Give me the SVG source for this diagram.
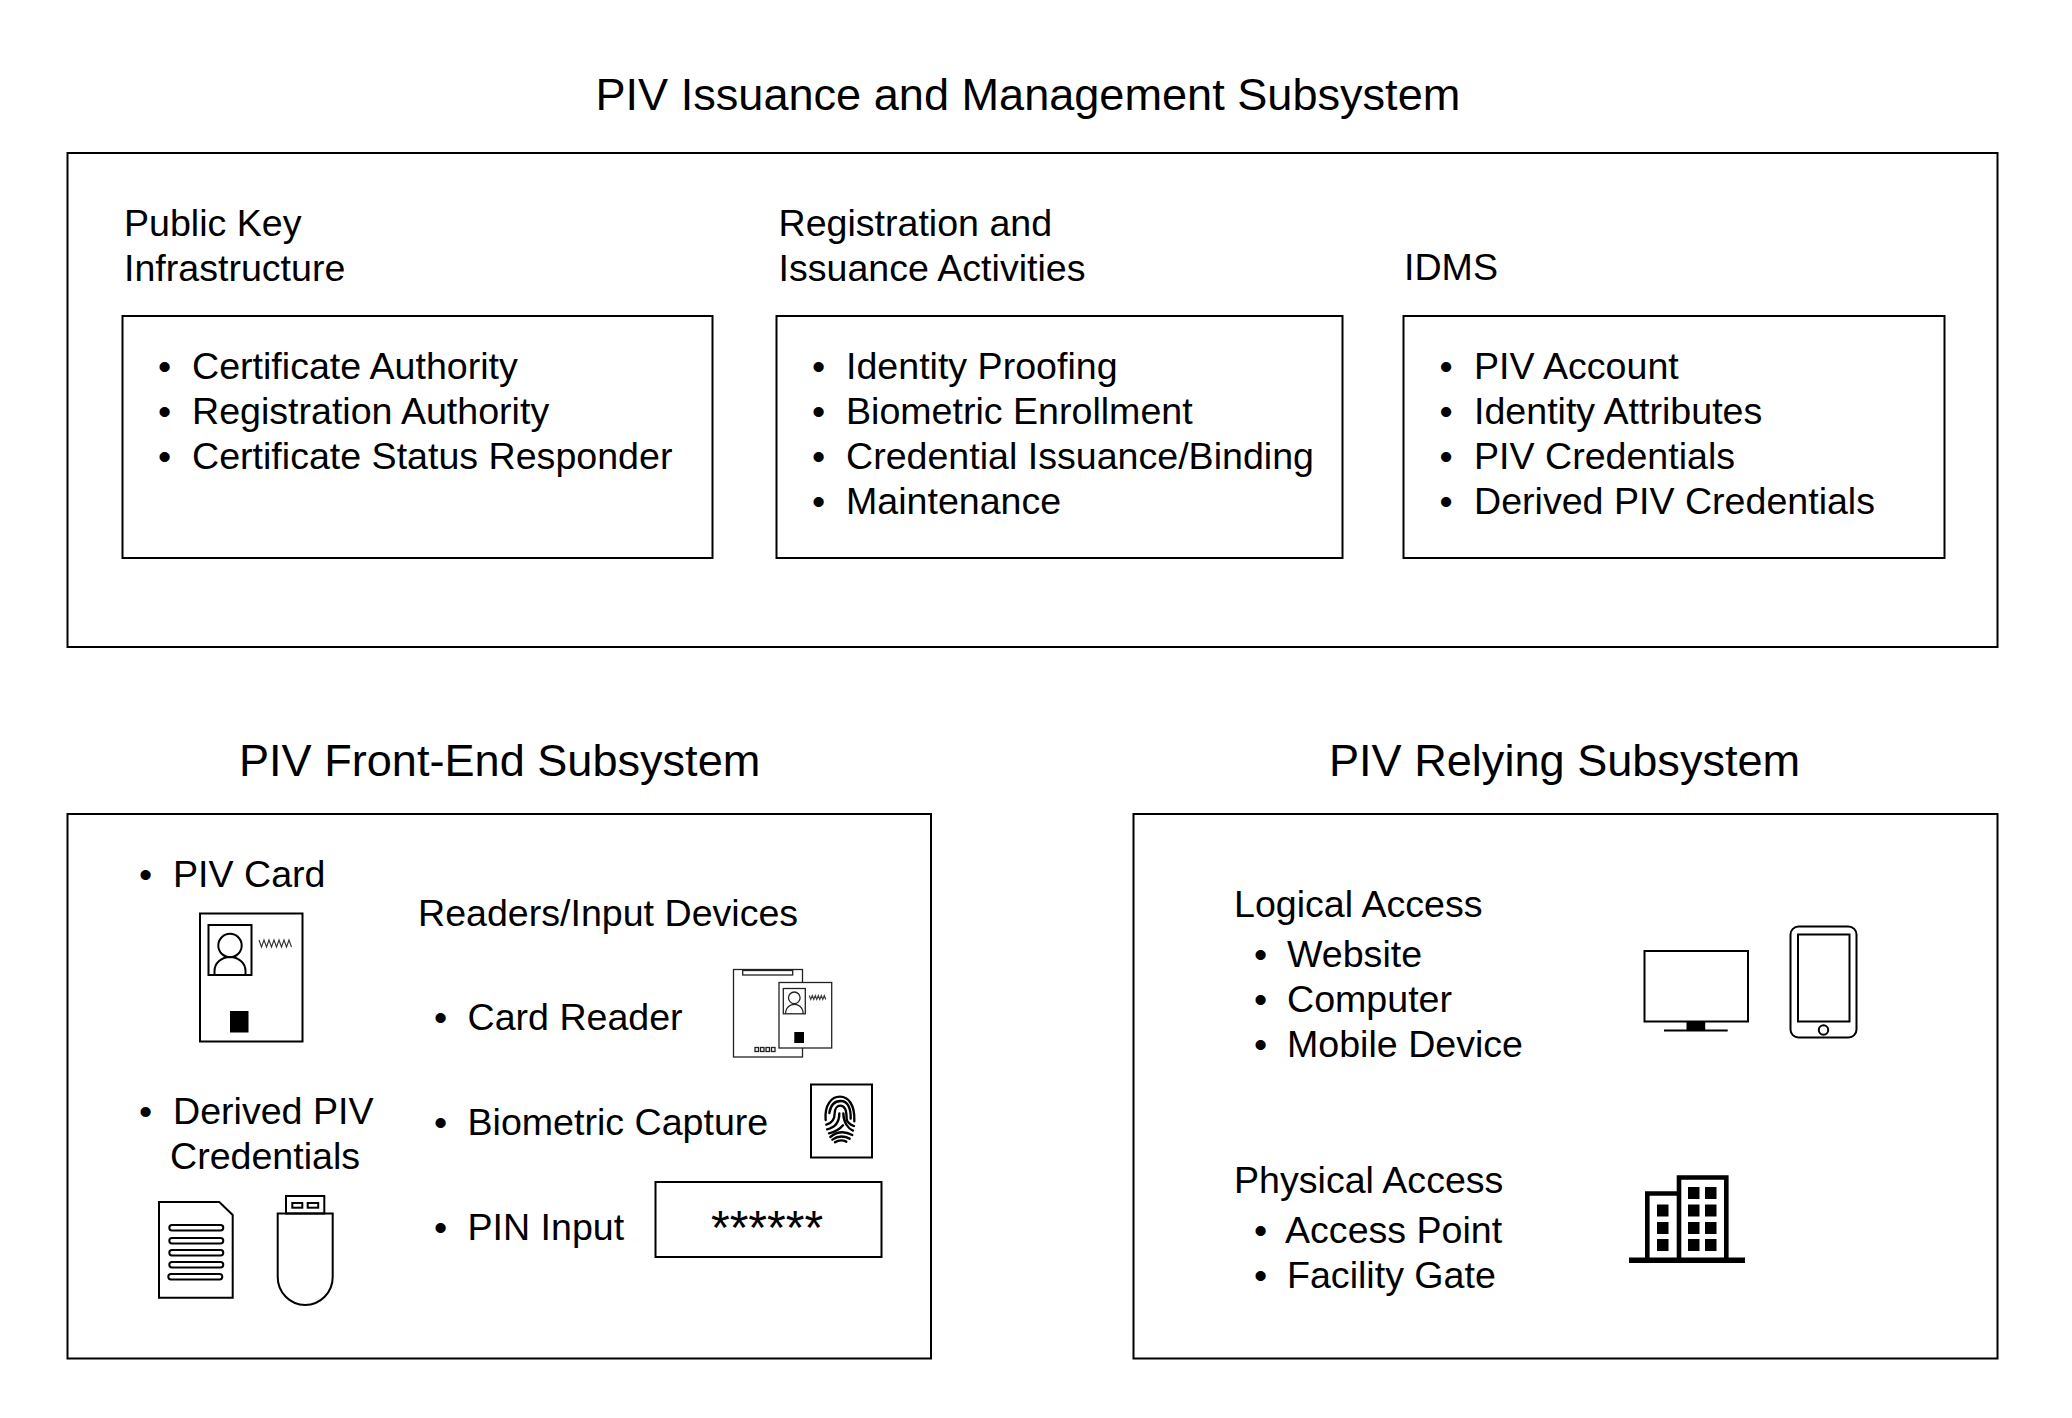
<svg xmlns="http://www.w3.org/2000/svg" width="2072" height="1418" viewBox="0 0 2072 1418">
<style>
text{font-family:"Liberation Sans",Arial,sans-serif;font-size:37.6px;fill:#000}
.t{font-size:45.1px}
.b{fill:#fff;stroke:#000;stroke-width:2}
.n{fill:none;stroke:#000;stroke-width:2}
.h{fill:none;stroke:#000;stroke-width:7;stroke-linecap:round}
.w{fill:none;stroke:#333;stroke-width:1.1}
.k{fill:#000}
.r{fill:none;stroke:#222;stroke-width:1.3}
.rf{fill:#fff;stroke:#222;stroke-width:1.3}
</style>
<rect width="2072" height="1418" fill="#fff"/>
<g id="issuance">
<text class="t" x="595.500" y="110">PIV Issuance and Management Subsystem</text>
<rect class="b" x="67.5" y="153" width="1930" height="494"/>
</g>
<g id="pki">
<text x="124" y="236">Public Key</text>
<text x="124" y="281">Infrastructure</text>
<rect class="b" x="122.5" y="316" width="590" height="242"/>
<text x="158" y="379">•</text><text x="192" y="379">Certificate Authority</text>
<text x="158" y="424">•</text><text x="192" y="424">Registration Authority</text>
<text x="158" y="469">•</text><text x="192" y="469">Certificate Status Responder</text>
</g>
<g id="registration">
<text x="778.500" y="236">Registration and</text>
<text x="778.500" y="281">Issuance Activities</text>
<rect class="b" x="776.500" y="316" width="566" height="242"/>
<text x="812" y="379">•</text><text x="846" y="379">Identity Proofing</text>
<text x="812" y="424">•</text><text x="846" y="424">Biometric Enrollment</text>
<text x="812" y="469">•</text><text x="846" y="469">Credential Issuance/Binding</text>
<text x="812" y="514">•</text><text x="846" y="514">Maintenance</text>
</g>
<g id="idms">
<text x="1404" y="280">IDMS</text>
<rect class="b" x="1403.500" y="316" width="541" height="242"/>
<text x="1439.500" y="379">•</text><text x="1474" y="379">PIV Account</text>
<text x="1439.500" y="424">•</text><text x="1474" y="424">Identity Attributes</text>
<text x="1439.500" y="469">•</text><text x="1474" y="469">PIV Credentials</text>
<text x="1439.500" y="514">•</text><text x="1474" y="514">Derived PIV Credentials</text>
</g>
<g id="frontend">
<text class="t" x="239" y="775.500">PIV Front-End Subsystem</text>
<rect class="b" x="67.5" y="814" width="863.500" height="544.500"/>
<text x="139" y="887">•</text><text x="173" y="887">PIV Card</text>
<text x="139" y="1124">•</text><text x="173" y="1124">Derived PIV</text>
<text x="170" y="1169">Credentials</text>
<text x="418" y="926">Readers/Input Devices</text>
</g>
<g id="piv-card">
<rect class="b" x="200" y="913.500" width="102.500" height="128"/>
<rect class="n" x="208.5" y="925" width="43" height="50"/>
<circle class="n" cx="230" cy="945.500" r="11.700"/>
<path class="n" d="M214.500 975V971A15.500 14 0 0 1 245.500 971V975"/>
<path class="w" d="M259 940l2.500 7 2.500-7 2.500 7 2.500-7 2.500 7 2.500-7 2.500 7 2.500-7 2.500 7 2.500-7 2.500 7 2.500-7 2.500 7"/>
<rect class="k" x="230" y="1011" width="18.500" height="21.500"/>
</g>
<g id="document-icon">
<path class="n" d="M159 1202H219.300L232.700 1215V1297.700H159Z"/>
<rect class="n" x="169.300" y="1225" width="54" height="5.500" rx="2.700"/>
<rect class="n" x="169.300" y="1238" width="54" height="5.500" rx="2.700"/>
<rect class="n" x="169.300" y="1250" width="54" height="5.500" rx="2.700"/>
<rect class="n" x="169.300" y="1262" width="54" height="5.500" rx="2.700"/>
<rect class="n" x="168.300" y="1274" width="54" height="5.500" rx="2.700"/>
</g>
<g id="usb-icon">
<rect class="n" x="286" y="1196" width="38.300" height="17.500"/>
<rect class="n" x="292.300" y="1203" width="10" height="4.700"/>
<rect class="n" x="307.700" y="1203" width="10.500" height="4.700"/>
<path class="n" d="M277.700 1213.500H332.700V1277A27.500 28 0 0 1 277.700 1277Z"/>
</g>
<g id="card-reader">
<text x="434" y="1030">•</text><text x="467.500" y="1030">Card Reader</text>
<rect class="rf" x="733.500" y="969.500" width="69" height="87.500"/>
<rect class="r" x="742.700" y="970.500" width="50" height="4.500"/>
<g class="r"><rect x="755" y="1047.500" width="3.500" height="4"/><rect x="760.500" y="1047.500" width="3.500" height="4"/><rect x="766" y="1047.500" width="3.500" height="4"/><rect x="771.500" y="1047.500" width="3.500" height="4"/></g>
<rect class="rf" x="779" y="982.500" width="52.700" height="65.500"/>
<rect class="r" x="783.300" y="988.500" width="22" height="25.300"/>
<circle class="r" cx="794.300" cy="997.800" r="5.800"/>
<path class="r" d="M785.700 1013.500V1011.500A8.700 8 0 0 1 803 1011.500V1013.500"/>
<path class="w" d="M809.300 995.500l1.500 4 1.500-4 1.500 4 1.500-4 1.500 4 1.500-4 1.500 4 1.500-4 1.500 4 1.500-4 1.500 4"/>
<rect class="k" x="794.300" y="1032" width="9.700" height="11"/>
</g>
<g id="biometric">
<text x="434" y="1135">•</text><text x="467.500" y="1135">Biometric Capture</text>
<rect class="b" x="811" y="1084.500" width="61" height="73"/>
<g transform="translate(815 1088) scale(.3333)">
<path class="h" d="M32 96C28 50 50 26 75 26C100 26 120 50 118 100M43 75C47 50 60 39 77 39C98 39 108 60 107 92M34 110C50 106 59 95 59 76C59 61 67 53 76 53C88 53 95 65 95 92C95 100 104 110 117 114M36 124C56 120 73 106 73 76M85 76C85 104 100 122 114 128M42 136C60 132 74 124 84 112M46 147Q76 122 112 141M52 155Q76 138 104 152M60 163Q76 152 94 161"/>
</g>
</g>
<g id="pin-input">
<text x="434" y="1240">•</text><text x="467.500" y="1240">PIN Input</text>
<rect class="b" x="655.500" y="1182" width="226" height="75" stroke-width="3"/>
<text x="711" y="1244" style="font-size:48px">******</text>
</g>
<g id="relying">
<text class="t" x="1329" y="775.500">PIV Relying Subsystem</text>
<rect class="b" x="1133.500" y="814" width="864" height="544.500"/>
</g>
<g id="logical">
<text x="1234" y="917">Logical Access</text>
<text x="1254" y="967">•</text><text x="1287" y="967">Website</text>
<text x="1254" y="1012">•</text><text x="1287" y="1012">Computer</text>
<text x="1254" y="1057">•</text><text x="1287" y="1057">Mobile Device</text>
</g>
<g id="devices">
<rect class="n" x="1644.500" y="951" width="103.500" height="70.500"/>
<rect class="k" x="1686.500" y="1021.500" width="18.700" height="9"/>
<path class="n" d="M1664 1030.500H1727.700"/>
<rect class="n" x="1790.500" y="926.500" width="66" height="111" rx="8"/>
<rect class="n" x="1798" y="934.500" width="51.500" height="87" stroke-width="2.400"/>
<circle class="n" cx="1823.500" cy="1030" r="4.700"/>
</g>
<g id="physical">
<text x="1234" y="1193">Physical Access</text>
<text x="1254" y="1243">•</text><text x="1285" y="1243">Access Point</text>
<text x="1254" y="1288">•</text><text x="1287" y="1288">Facility Gate</text>
</g>
<g id="building">
<path fill="none" stroke="#000" stroke-width="4.600" d="M1647.300 1259V1193.500H1679V1259M1679 1193.500V1177.500H1726.300V1259"/>
<rect class="k" x="1629" y="1257.500" width="116" height="5.500"/>
<g class="k">
<rect x="1688" y="1187" width="11.500" height="12"/><rect x="1705" y="1187" width="11.500" height="12"/>
<rect x="1688" y="1204.500" width="11.500" height="12"/><rect x="1705" y="1204.500" width="11.500" height="12"/>
<rect x="1688" y="1222" width="11.500" height="12"/><rect x="1705" y="1222" width="11.500" height="12"/>
<rect x="1688" y="1239" width="11.500" height="12"/><rect x="1705" y="1239" width="11.500" height="12"/>
<rect x="1657" y="1204.500" width="11.500" height="12"/><rect x="1657" y="1222" width="11.500" height="12"/><rect x="1657" y="1239" width="11.500" height="12"/>
</g>
</g>
<g id="connectors"/>
</svg>
